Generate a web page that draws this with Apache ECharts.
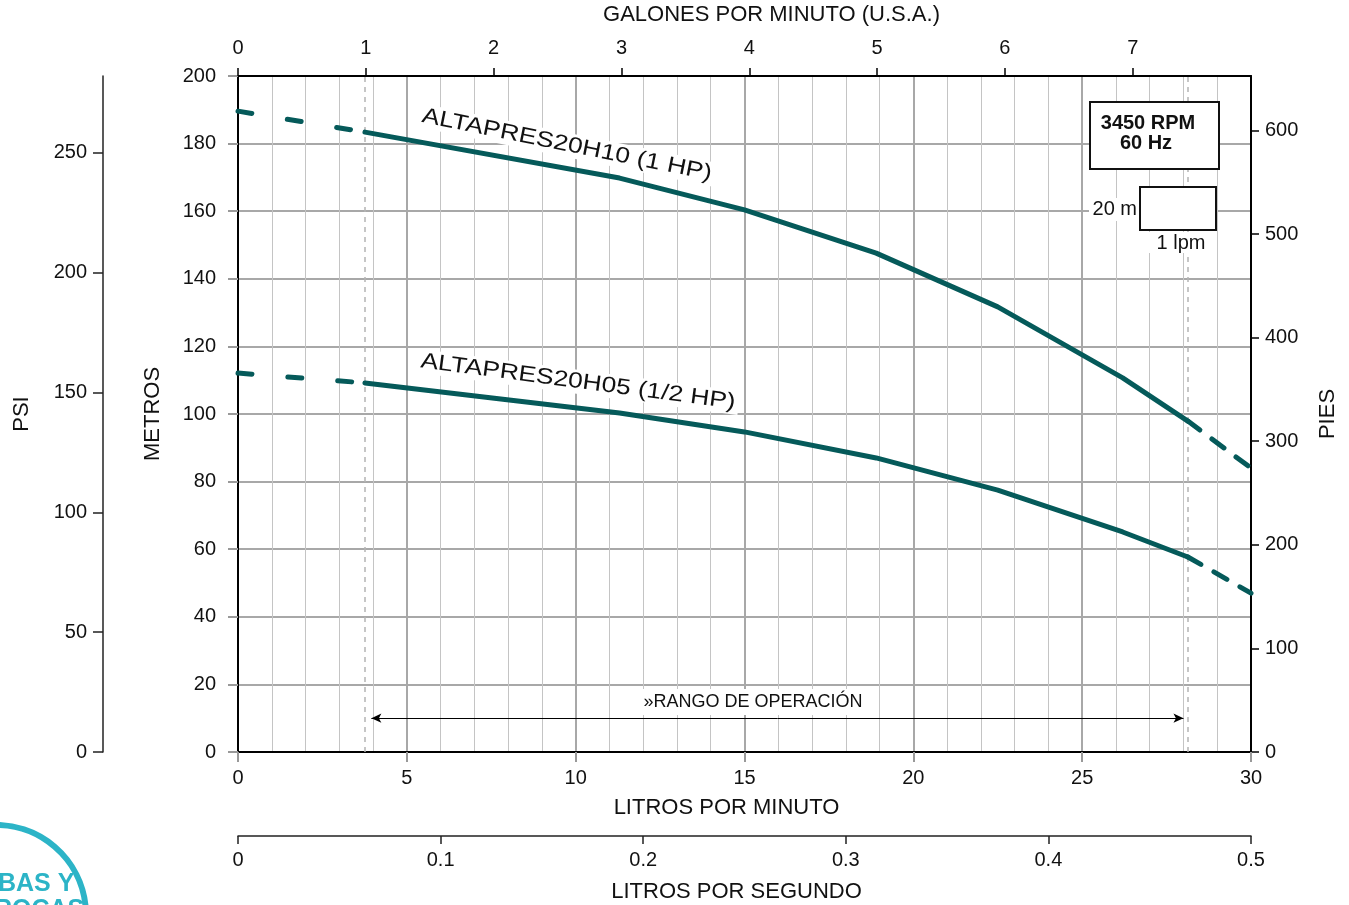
<!DOCTYPE html>
<html><head><meta charset="utf-8">
<script src="https://cdn.jsdelivr.net/npm/echarts@6/dist/echarts.min.js"></script>
<style>html,body{margin:0;padding:0;background:#fff}#c{width:1349px;height:905px}</style>
</head><body><div id="c"></div>
<script>
// ---- data ----
const flowLpm = [0, 3.76, 11.3, 15.0, 18.9, 22.5, 26.2, 28.13, 30];
const headH10 = [189.6, 183.4, 169.8, 160.4, 147.6, 131.7, 110.7, 97.9, 84.0];
const headH05 = [112.1, 109.2, 100.3, 94.7, 87.0, 77.5, 65.1, 57.7, 47.0];
const solidFrom = 1, solidTo = 7;
const operatingLimits = [3.76, 28.13];
const rangeArrowEnds = [3.95, 28.0];
const rangeArrowHead = 10;
const lpmMax = 30, metrosMax = 200;
const psiPerMeter = 1.41, ftPerMeter = 3.263, gpmPerLpm = 0.26417, lpsPerLpm = 1 / 60;
const psiTicks = [0, 50, 100, 150, 200, 250];
const piesTicks = [0, 100, 200, 300, 400, 500, 600];
const gpmTicks = [0, 1, 2, 3, 4, 5, 6, 7];
const curveNames = ['ALTAPRES20H10 (1 HP)', 'ALTAPRES20H05 (1/2 HP)'];
const rangeLabel = '»RANGO DE OPERACIÓN';

// ---- styling ----
const TEAL = '#055a5a';
const FONT = '"Liberation Sans", Arial, sans-serif';
const INK = '#111';
const GRIDC = '#a8a8a8';

function pts(ys, a, b) { const o = []; for (let i = a; i <= b; i++) o.push([flowLpm[i], ys[i]]); return o; }
function curve(name, ys, extraMark) {
  const base = { type: 'line', name, symbol: 'none', xAxisIndex: 0, yAxisIndex: 0, z: 4, animation: false, silent: true };
  return [
    Object.assign({}, base, { data: pts(ys, 0, solidFrom), lineStyle: { color: TEAL, width: 5, type: [14, 36], cap: 'round' } }),
    Object.assign({}, base, { data: pts(ys, solidFrom, solidTo), lineStyle: { color: TEAL, width: 5, cap: 'round', join: 'round' }, markLine: extraMark }),
    Object.assign({}, base, { data: pts(ys, solidTo, flowLpm.length - 1), lineStyle: { color: TEAL, width: 5, type: [15, 15], cap: 'round' } })
  ];
}

const nameStyle = { fontSize: 22, color: INK, fontFamily: FONT };
const labStyle = { fontSize: 20, color: INK, fontFamily: FONT };

const option = {
  animation: false,
  textStyle: { fontFamily: FONT },
  grid: { left: 238, right: 98, top: 76, bottom: 153, outerBoundsMode: 'none', containLabel: false },
  xAxis: [
    { type: 'value', position: 'bottom', min: 0, max: lpmMax, interval: 5,
      name: 'LITROS POR MINUTO', nameLocation: 'middle', nameGap: 45,
      nameTextStyle: Object.assign({ padding: [0, 36, 0, 0] }, nameStyle),
      axisLine: { show: true, onZero: false, lineStyle: { color: '#000', width: 2 } },
      axisTick: { show: true, length: 10, lineStyle: { color: '#999', width: 2 } },
      axisLabel: Object.assign({ margin: 16 }, labStyle),
      splitLine: { show: true, lineStyle: { color: GRIDC, width: 2 } },
      minorTick: { show: false, splitNumber: 5 },
      minorSplitLine: { show: true, lineStyle: { color: '#c4c4c4', width: 1 } } },
    { type: 'value', position: 'top', min: 0, max: lpmMax * gpmPerLpm,
      name: 'GALONES POR MINUTO (U.S.A.)', nameLocation: 'middle', nameGap: 50,
      nameTextStyle: Object.assign({ padding: [0, 0, 0, 54] }, nameStyle),
      axisLine: { show: true, onZero: false, lineStyle: { color: '#000', width: 2 } },
      axisTick: { show: true, length: 8, customValues: gpmTicks, lineStyle: { color: '#000', width: 1.5 } },
      axisLabel: Object.assign({ margin: 18, customValues: gpmTicks }, labStyle),
      splitLine: { show: false } },
    { type: 'value', position: 'bottom', offset: 84, min: 0, max: lpmMax * lpsPerLpm, interval: 0.1,
      name: 'LITROS POR SEGUNDO', nameLocation: 'middle', nameGap: 45,
      nameTextStyle: Object.assign({ padding: [0, 16, 0, 0] }, nameStyle),
      axisLine: { show: true, onZero: false, lineStyle: { color: '#222', width: 1.5 } },
      axisTick: { show: true, length: 8, lineStyle: { color: '#222', width: 1.5 } },
      axisLabel: Object.assign({ margin: 14, formatter: v => String(+v.toFixed(1)) }, labStyle),
      splitLine: { show: false } }
  ],
  yAxis: [
    { type: 'value', position: 'left', min: 0, max: metrosMax, interval: 20,
      name: 'METROS', nameLocation: 'middle', nameGap: 74, nameRotate: 90, nameTextStyle: nameStyle,
      axisLine: { show: true, onZero: false, lineStyle: { color: '#000', width: 2 } },
      axisTick: { show: true, length: 10, lineStyle: { color: '#999', width: 2 } },
      axisLabel: Object.assign({ margin: 22 }, labStyle),
      splitLine: { show: true, lineStyle: { color: GRIDC, width: 2 } } },
    { type: 'value', position: 'right', min: 0, max: metrosMax * ftPerMeter,
      name: 'PIES', nameLocation: 'middle', nameGap: 66, nameRotate: 90, nameTextStyle: nameStyle,
      axisLine: { show: true, onZero: false, lineStyle: { color: '#000', width: 2 } },
      axisTick: { show: true, length: 8, customValues: piesTicks, lineStyle: { color: '#000', width: 1.5 } },
      axisLabel: Object.assign({ margin: 14, customValues: piesTicks }, labStyle),
      splitLine: { show: false } },
    { type: 'value', position: 'left', offset: 135, min: 0, max: metrosMax * psiPerMeter,
      name: 'PSI', nameLocation: 'middle', nameGap: 70, nameRotate: 90, nameTextStyle: nameStyle,
      axisLine: { show: true, onZero: false, lineStyle: { color: '#222', width: 1.5 } },
      axisTick: { show: true, length: 10, customValues: psiTicks, lineStyle: { color: '#222', width: 1.5 } },
      axisLabel: Object.assign({ margin: 16, customValues: psiTicks }, labStyle),
      splitLine: { show: false } }
  ],
  series: [].concat(
    curve(curveNames[0], headH10, {
      silent: true, symbol: 'none', animation: false, z: 3,
      label: { show: false },
      lineStyle: { color: '#b4b4b4', width: 1.5, type: [5, 5] },
      data: operatingLimits.map(v => ({ xAxis: v }))
    }),
    curve(curveNames[1], headH05, {
      silent: true, animation: false, z: 3,
      symbol: ['arrow', 'arrow'], symbolSize: [7, 10],
      label: { show: false },
      lineStyle: { color: '#000', width: 1, type: 'solid' },
      data: [[{ coord: [rangeArrowEnds[0], rangeArrowHead] }, { coord: [rangeArrowEnds[1], rangeArrowHead] }]]
    })
  )
};

const chart = echarts.init(document.getElementById('c'), null, { renderer: 'canvas' });
chart.setOption(option);

// annotation anchors (data coordinates)
const annH10 = [9.74, 179.6], annH05 = [10.07, 109.5], annRange = [15.25, 14.8];
const px = p => chart.convertToPixel({ xAxisIndex: 0, yAxisIndex: 0 }, p);
const a1 = px(annH10), a2 = px(annH05), a3 = px(annRange);
const CYAN = '#2cb4c7';
chart.setOption({
  graphic: [
    { type: 'text', z: 10, x: a1[0], y: a1[1], rotation: -0.199, scaleX: 1.2,
      style: { text: curveNames[0], font: '22px ' + FONT, fill: INK, align: 'center', verticalAlign: 'middle', backgroundColor: '#fff', padding: [1, 3] } },
    { type: 'text', z: 10, x: a2[0], y: a2[1], rotation: -0.131, scaleX: 1.2,
      style: { text: curveNames[1], font: '22px ' + FONT, fill: INK, align: 'center', verticalAlign: 'middle', backgroundColor: '#fff', padding: [1, 3] } },
    { type: 'text', z: 10, x: a3[0], y: a3[1],
      style: { text: rangeLabel, font: '18px ' + FONT, fill: INK, align: 'center', verticalAlign: 'middle', backgroundColor: '#fff', padding: [5, 10, 3, 10] } },
    { type: 'rect', z: 10, shape: { x: 1090, y: 102, width: 129, height: 67 }, style: { fill: '#fff', stroke: '#111', lineWidth: 2 } },
    { type: 'text', z: 11, x: 1148, y: 123, style: { text: '3450 RPM', font: 'bold 20px ' + FONT, fill: INK, align: 'center', verticalAlign: 'middle' } },
    { type: 'text', z: 11, x: 1146, y: 143, style: { text: '60 Hz', font: 'bold 20px ' + FONT, fill: INK, align: 'center', verticalAlign: 'middle' } },
    { type: 'rect', z: 10, shape: { x: 1089, y: 198, width: 50, height: 23 }, style: { fill: '#fff' } },
    { type: 'rect', z: 10, shape: { x: 1118, y: 232, width: 92, height: 21 }, style: { fill: '#fff' } },
    { type: 'rect', z: 11, shape: { x: 1140, y: 187, width: 76, height: 43 }, style: { fill: '#fff', stroke: '#111', lineWidth: 2 } },
    { type: 'text', z: 12, x: 1137, y: 209, style: { text: '20 m', font: '20px ' + FONT, fill: INK, align: 'right', verticalAlign: 'middle' } },
    { type: 'text', z: 12, x: 1181, y: 243, style: { text: '1 lpm', font: '20px ' + FONT, fill: INK, align: 'center', verticalAlign: 'middle' } },
    { type: 'arc', z: 10, shape: { cx: -4, cy: 915, r: 90, startAngle: -Math.PI / 2 - 0.05, endAngle: -0.1, clockwise: true },
      style: { stroke: CYAN, lineWidth: 6, fill: null } },
    { type: 'text', z: 10, x: -2, y: 884, style: { text: 'BAS Y', font: 'bold 25px ' + FONT, fill: CYAN, align: 'left', verticalAlign: 'middle' } },
    { type: 'text', z: 10, x: -6, y: 898, style: { text: 'ROCAS', font: 'bold 25px ' + FONT, fill: CYAN, align: 'left', verticalAlign: 'top' } }
  ]
});
</script>
</body></html>
